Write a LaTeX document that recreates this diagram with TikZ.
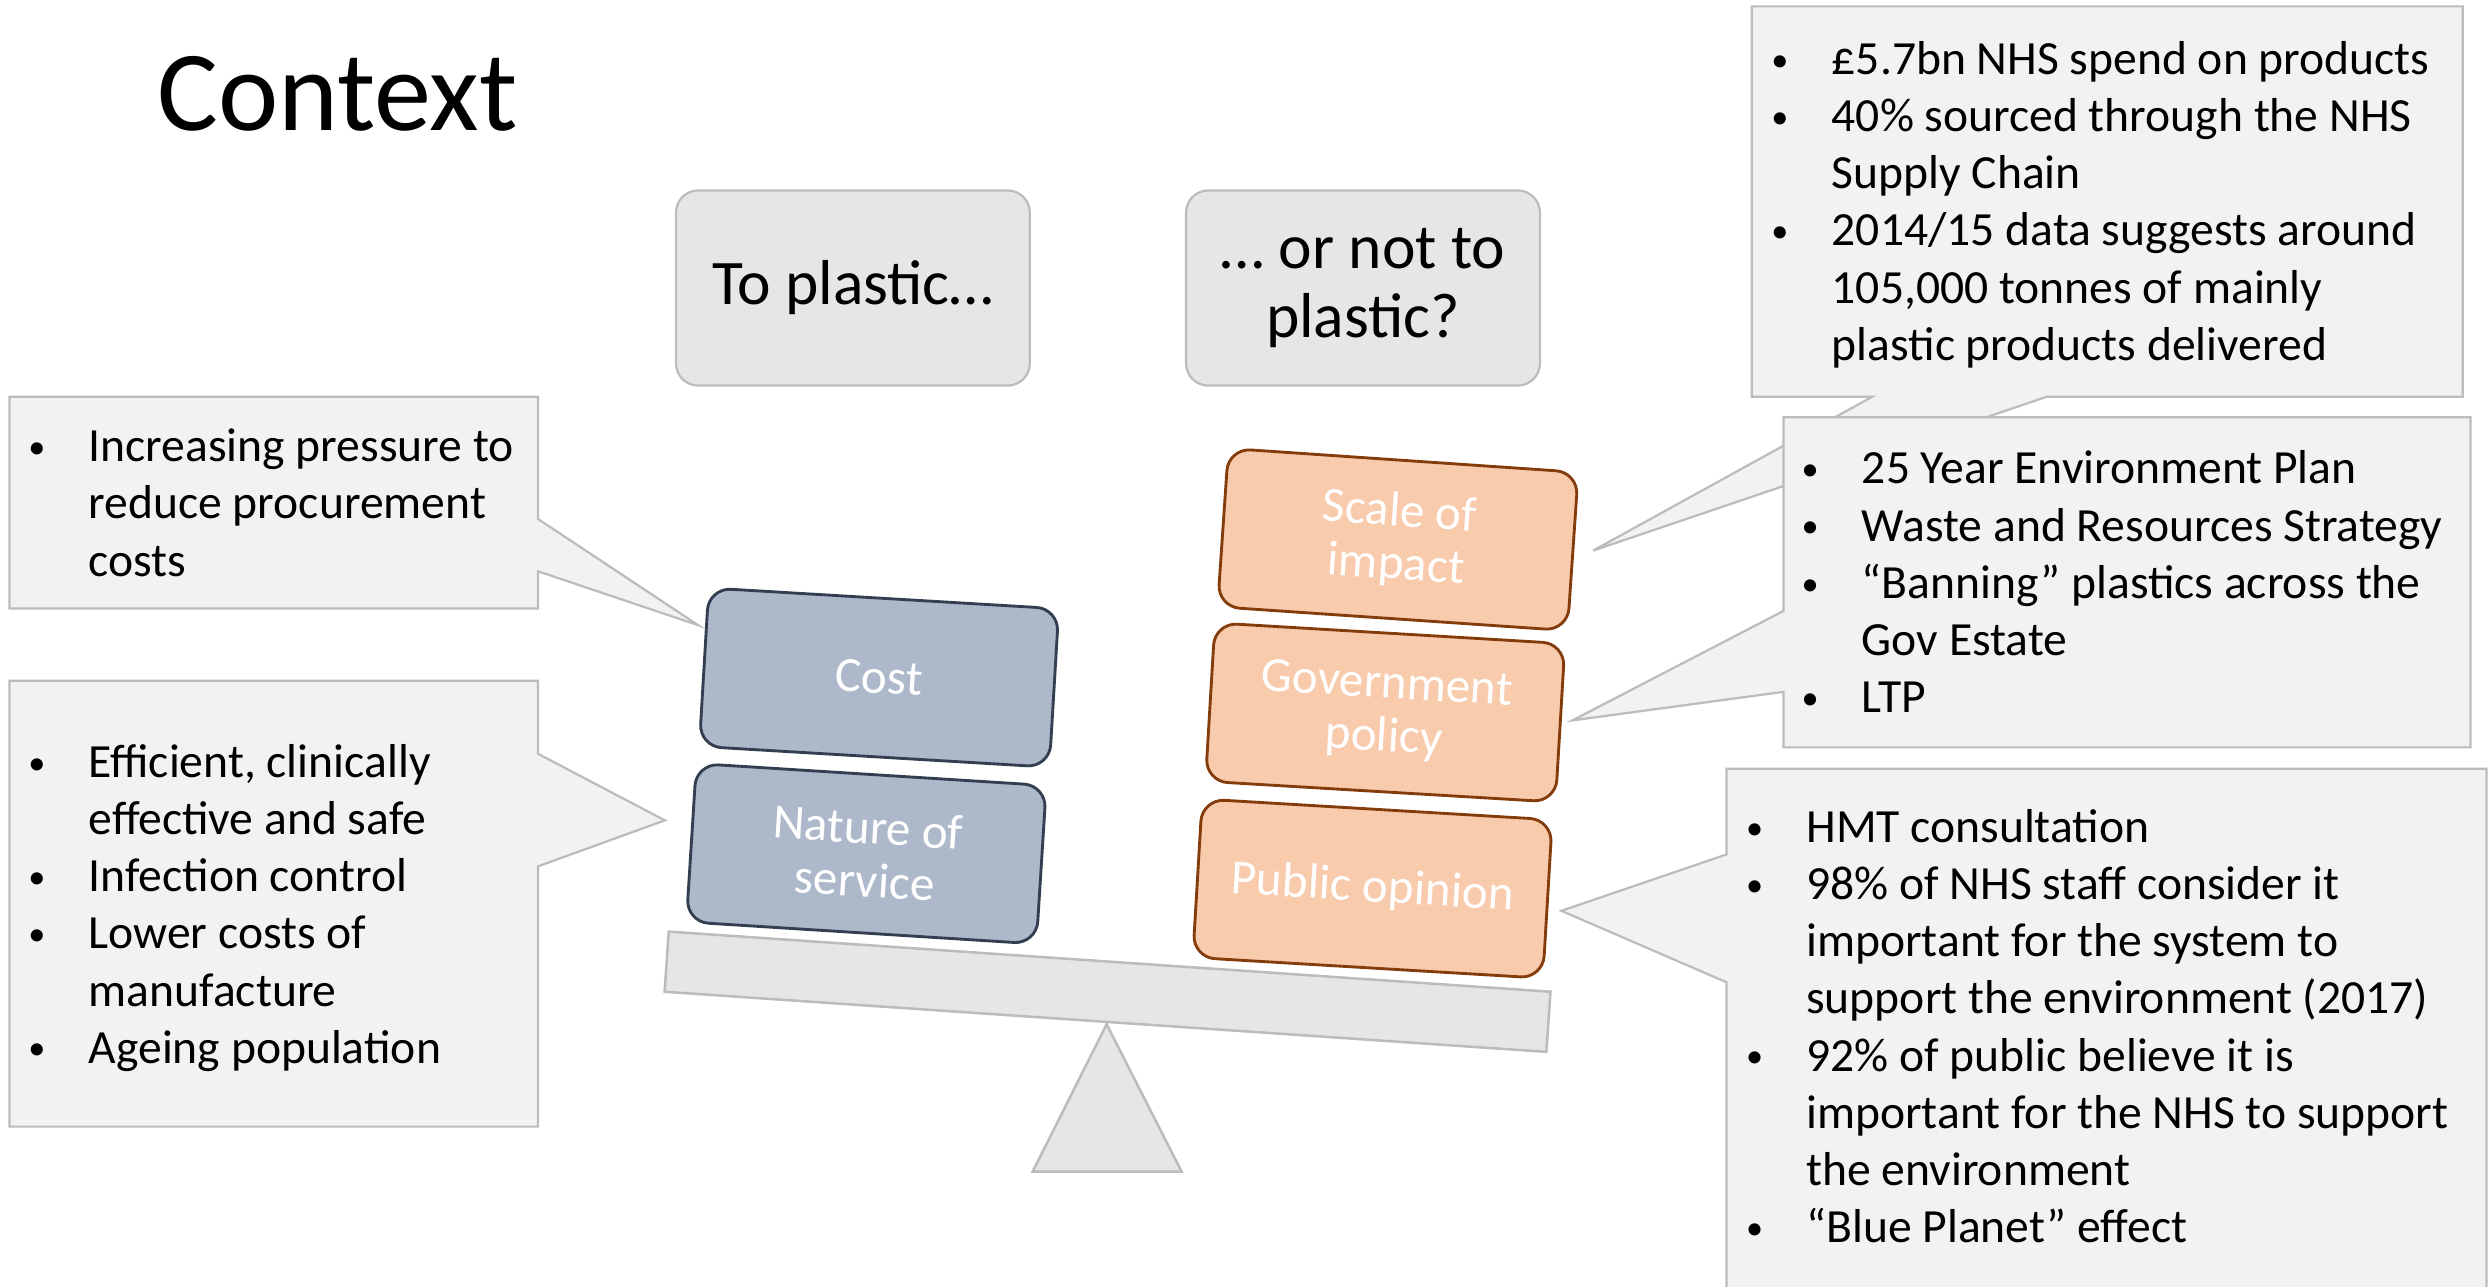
\documentclass[tikz,border=0pt]{standalone}
\usepackage{fontspec}
\usepackage{graphicx}
\setmainfont{Carlito}
\usetikzlibrary{calc}
\definecolor{calloutfill}{HTML}{F2F2F2}
\definecolor{calloutline}{HTML}{BCBCBC}
\definecolor{qfill}{HTML}{E7E6E6}
\definecolor{bluefill}{HTML}{ADB9CA}
\definecolor{blueline}{HTML}{333F50}
\definecolor{orfill}{HTML}{F8CBAD}
\definecolor{orline}{HTML}{843C0C}
\newcommand{\bl}{\makebox[20pt][l]{\hspace{1pt}\raisebox{1pt}{\scalebox{0.72}{\textbullet}}}}
\begin{document}
\begin{tikzpicture}[x=0.5pt,y=-0.5pt,
  callout/.style={fill=calloutfill, draw=calloutline, line width=0.7pt},
  question/.style={rectangle, rounded corners=7pt, fill=qfill, draw=calloutline, line width=0.7pt,
    minimum width=111.5pt, minimum height=61.5pt, align=center, inner sep=0pt,
    font=\fontsize{20}{22}\selectfont},
  blockbase/.style={rectangle, rounded corners=7pt, line width=0.9pt, minimum width=110.5pt,
    minimum height=50pt, inner sep=0pt, text=white, align=center, font=\fontsize{15.5}{16.8}\selectfont},
  blueblock/.style={blockbase, fill=bluefill, draw=blueline},
  orblock/.style={blockbase, fill=orfill, draw=orline},
  bodytext/.style={anchor=base west, inner sep=0pt, font=\fontsize{15}{18}\selectfont},
  scalepart/.style={fill=qfill, draw=calloutline, line width=0.8pt}
]
\useasboundingbox (0,0) rectangle (1568,811);

% title
\node[anchor=base west, inner sep=0pt, font=\fontsize{36}{40}\selectfont] (title) at (99,82.5) {Context};

% question boxes
\node[question] (q1) at (537.5,181.5) {To plastic…};
\node[question] (q2) at (859,181.5) {… or not to\\plastic?};

% balance
\node[scalepart, rectangle, rotate=-3.9, minimum width=278.5pt, minimum height=19pt, inner sep=0pt] (beam) at (698,625) {};
\coordinate (apex) at (697.4,645.5);
\draw[scalepart] (apex) -- (744.7,738.4) -- (650.8,738.4) -- cycle;

% blocks
\node[blueblock, rotate=-3.4] (cost) at (554,427) {Cost};
\node[blueblock, rotate=-3.6] (nature) at (546,538) {Nature of\\service};
\node[orblock, rotate=-3.9] (scale) at (881,340) {Scale of\\impact};
\node[orblock, rotate=-3.4] (gov) at (873,449) {Government\\policy};
\node[orblock, rotate=-3.4] (public) at (865,560) {Public opinion};

% callout tips
\coordinate (tipLT) at (440,394);
\coordinate (tipLB) at (419,517);
\coordinate (tipRT) at (1004,347);
\coordinate (tipR2) at (991,454);
\coordinate (tipR3) at (984,574);

% callouts
\draw[callout] (6,250) -- (339,250) -- (339,327) -- (tipLT) -- (339,360) -- (339,383.5) -- (6,383.5) -- cycle;
\draw[callout] (6,429) -- (339,429) -- (339,475) -- (tipLB) -- (339,546) -- (339,710) -- (6,710) -- cycle;
\draw[callout] (1104,4) -- (1552,4) -- (1552,250) -- (1290,250) -- (tipRT) -- (1180,250) -- (1104,250) -- cycle;
\draw[callout] (1124,263) -- (1557,263) -- (1557,471) -- (1124,471) -- (1124,436) -- (tipR2) -- (1124,385) -- cycle;
\draw[callout] (1088,484.5) -- (1567,484.5) -- (1567,830) -- (1088,830) -- (1088,619) -- (tipR3) -- (1088,538.5) -- cycle;

% callout texts
\node[bodytext] (tLT) at (15.5,291) {\begin{tabular}[t]{@{}l@{}l@{}}
\bl & Increasing pressure to\\ & reduce procurement\\ & costs\end{tabular}};
\node[bodytext] (tLB) at (15.5,490) {\begin{tabular}[t]{@{}l@{}l@{}}
\bl & Efficient, clinically\\ & effective and safe\\
\bl & Infection control\\
\bl & Lower costs of\\ & manufacture\\
\bl & Ageing population\end{tabular}};
\node[bodytext] (tRT) at (1114,47) {\begin{tabular}[t]{@{}l@{}l@{}}
\bl & £5.7bn NHS spend on products\\
\bl & 40\% sourced through the NHS\\ & Supply Chain\\
\bl & 2014/15 data suggests around\\ & 105,000 tonnes of mainly\\ & plastic products delivered\end{tabular}};
\node[bodytext] (tR2) at (1133,305) {\begin{tabular}[t]{@{}l@{}l@{}}
\bl & 25 Year Environment Plan\\
\bl & Waste and Resources Strategy\\
\bl & “Banning” plastics across the\\ & Gov Estate\\
\bl & LTP\end{tabular}};
\node[bodytext] (tR3) at (1098,531) {\begin{tabular}[t]{@{}l@{}l@{}}
\bl & HMT consultation\\
\bl & 98\% of NHS staff consider it\\ & important for the system to\\ & support the environment (2017)\\
\bl & 92\% of public believe it is\\ & important for the NHS to support\\ & the environment\\
\bl & “Blue Planet” effect\end{tabular}};
\end{tikzpicture}
\end{document}
